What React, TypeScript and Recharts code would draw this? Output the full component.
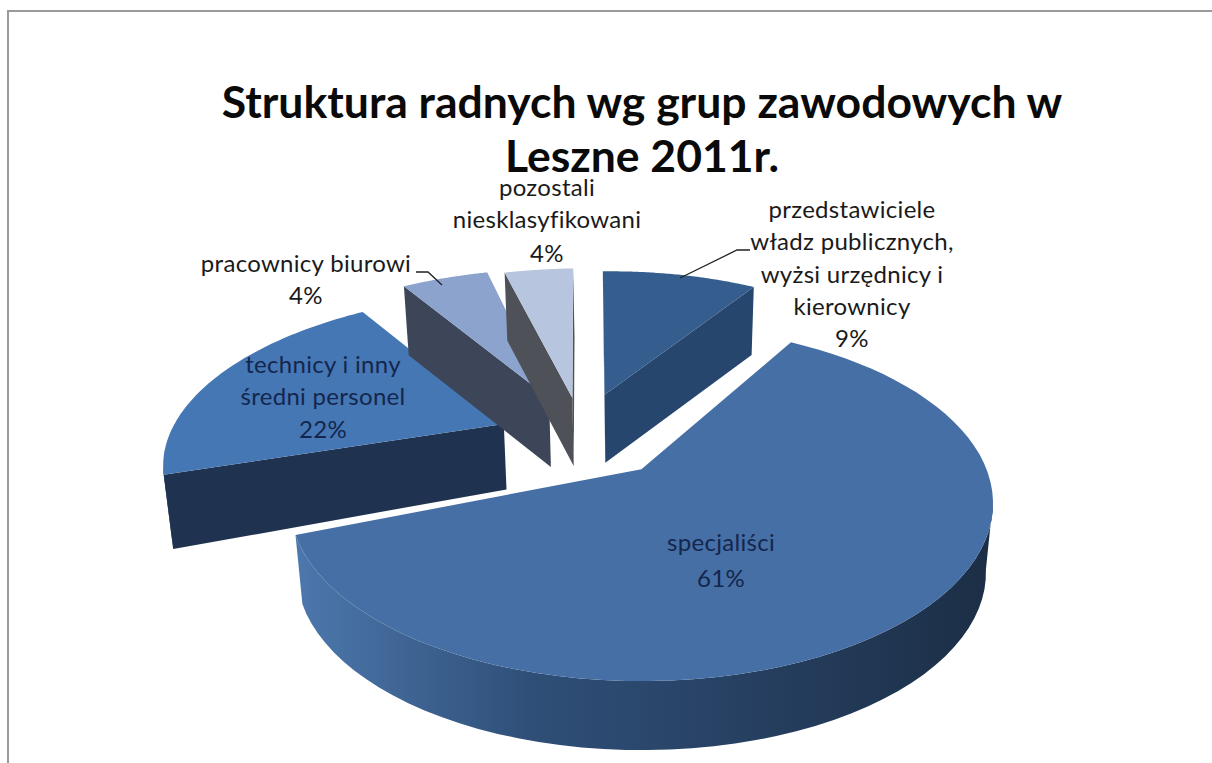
import React from "react";
import { PieChart, Pie, Cell } from "recharts";

const categories = ["technicy i inny średni personel", "pracownicy biurowi", "pozostali niesklasyfikowani", "przedstawiciele władz publicznych, wyżsi urzędnicy i kierownicy", "specjaliści"];
const shares = [22, 4, 4, 9, 61];
const titleLines = ["Struktura radnych wg grup zawodowych w", "Leszne 2011r."];
const data = categories.map((name, i) => ({ name, value: shares[i] }));

// perspective of the 3D disc
const K = 0.19, TILT = 0.497, SHRINK = 0.98;

type Look = { ex: number; ey: number; rs: number; a0: number; a1: number; dp: number; ds: number; top: string; edge: string; wall: string[]; lines: string[]; lx: number; ly: number[]; ink: string; leader?: number[][] };
const looks: Look[] = [
  { ex: -0.42, ey: -0.286, rs: 1.015, a0: 0, a1: -5, dp: 62, ds: 0.026, top: "#4577b4", edge: "#1f3350", wall: ["#1f3350"], lines: ["technicy i inny", "średni personel"], lx: 323, ly: [373, 405, 438], ink: "#14264d" },
  { ex: -0.289, ey: -0.461, rs: 1.07, a0: -4, a1: -1, dp: 69, ds: 0, top: "#8ba3cd", edge: "#3c4658", wall: ["#3c4658"], lines: ["pracownicy biurowi"], lx: 306, ly: [272, 304], ink: "#1a1a1a", leader: [[416, 272], [428, 272], [442, 285]] },
  { ex: -0.215, ey: -0.461, rs: 1.07, a0: -1.5, a1: -2, dp: 68, ds: 0, top: "#b8c5de", edge: "#4f5158", wall: ["#4f5158"], lines: ["pozostali", "niesklasyfikowani"], lx: 547, ly: [196, 228, 262], ink: "#1a1a1a" },
  { ex: -0.113, ey: -0.483, rs: 1.02, a0: -1.5, a1: -1, dp: 68, ds: 0, top: "#355e8e", edge: "#27466d", wall: ["#27466d"], lines: ["przedstawiciele", "władz publicznych,", "wyżsi urzędnicy i", "kierownicy"], lx: 852, ly: [218, 250, 283, 315, 347], ink: "#1a1a1a", leader: [[750, 250], [737, 250], [680, 278]] },
  { ex: 0.004, ey: -0.005, rs: 1.01, a0: -2, a1: -3, dp: 69, ds: 0, top: "#456fa5", edge: "#456fa5", wall: ["#4d78ad", "#2f4f78", "#263f60", "#1b2e45"], lines: ["specjaliści"], lx: 721, ly: [551, 587], ink: "#14264d" },
];

const Slice3D = (p: any) => {
  const look = looks[categories.indexOf(p.name ?? p.payload?.name)];
  const { cx, cy, outerRadius: R } = p;
  const t0 = ((90 - p.startAngle + look.a0) * Math.PI) / 180;
  const t1 = ((90 - p.endAngle + look.a1) * Math.PI) / 180;
  const proj = (u: number, v: number) => {
    const w = 1 - K * (v + look.ey);
    const x = cx + (R * (u + look.ex)) / w;
    const y = cy + (R * TILT * (v + look.ey)) / w;
    return { x, y, bx: cx + (x - cx) * SHRINK, by: y + look.dp + look.ds * Math.abs(x - cx) };
  };
  const N = 72;
  const arc = Array.from({ length: N + 1 }, (_, i) => {
    const t = t0 + ((t1 - t0) * i) / N;
    return proj(look.rs * Math.sin(t), -look.rs * Math.cos(t));
  });
  const tip = proj(0, 0);
  const mid = (t0 + t1) / 2;
  const inner = proj(0.5 * Math.sin(mid), -0.5 * Math.cos(mid));
  const side = (a: any, b: any, c: { x: number; y: number }) => (b.x - a.x) * (c.y - a.y) - (b.y - a.y) * (c.x - a.x);
  const faces = (a: any, b: any, interior: { x: number; y: number }) =>
    side(a, b, { x: a.x, y: a.y + 10 }) * side(a, b, interior) < 0;
  const pts = (list: { x: number; y: number }[]) => list.map((q) => `${q.x.toFixed(1)},${q.y.toFixed(1)}`).join(" ");
  const low = (q: any) => ({ x: q.bx, y: q.by });
  const gid = `wall-${look.top.slice(1)}`;

  // visible stretches of the rim
  const runs: any[][] = [];
  let run: any[] = [];
  for (let i = 0; i < N; i++) {
    if (faces(arc[i], arc[i + 1], tip)) {
      if (!run.length) run.push(arc[i]);
      run.push(arc[i + 1]);
    } else if (run.length) {
      runs.push(run);
      run = [];
    }
  }
  if (run.length) runs.push(run);

  const edges = [arc[0], arc[N]].filter((e) => faces(tip, e, inner));
  return (
    <g>
      <defs>
        <linearGradient id={gid} x1="0" y1="0" x2="1" y2="0">
          {look.wall.map((c, i) => (
            <stop key={i} offset={look.wall.length > 1 ? i / (look.wall.length - 1) : 0} stopColor={c} />
          ))}
        </linearGradient>
      </defs>
      {edges.map((e, i) => (
        <polygon key={i} fill={look.edge} points={pts([tip, e, low(e), low(tip)])} />
      ))}
      {runs.map((r, i) => (
        <polygon key={i} fill={`url(#${gid})`} points={pts([...r, ...[...r].reverse().map(low)])} />
      ))}
      <polygon fill={look.top} points={pts([tip, ...arc])} />
    </g>
  );
};

const SliceLabel = (p: any) => {
  const look = looks[categories.indexOf(p.name ?? p.payload?.name)];
  const lines = [...look.lines, `${p.value}%`];
  return (
    <g>
      {look.leader && (
        <polyline points={look.leader.map((q) => q.join(",")).join(" ")} fill="none" stroke="#222" strokeWidth={1.3} />
      )}
      {lines.map((s, i) => (
        <text key={i} x={look.lx} y={look.ly[i]} textAnchor="middle" fontFamily="Lato" fontSize={24} letterSpacing={0.3} fill={look.ink}>
          {s}
        </text>
      ))}
    </g>
  );
};

export default function App() {
  return (
    <div style={{ position: "absolute", left: 0, top: 0, width: 1212, height: 763, background: "#fff", overflow: "hidden" }}>
      <div style={{ position: "absolute", left: 7, top: 10, width: 1205, height: 753, borderLeft: "2px solid #9a9a9a", borderTop: "2px solid #9a9a9a" }} />
      {titleLines.map((s, i) => (
        <div key={s} style={{ position: "absolute", left: 0, width: 1284, top: 86 + i * 54, textAlign: "center", fontFamily: "Lato", fontWeight: 700, fontSize: 44.5, lineHeight: "30px", color: "#0a0a0a" }}>
          {s}
        </div>
      ))}
      <div style={{ position: "absolute", left: 0, top: 0 }}>
        <PieChart width={1212} height={763} margin={{ top: 0, right: 0, bottom: 0, left: 0 }}>
          <Pie
            data={data}
            dataKey="value"
            nameKey="name"
            cx={640}
            cy={470}
            outerRadius={342}
            startAngle={-162}
            endAngle={-522}
            stroke="none"
            isAnimationActive={false}
            shape={Slice3D}
            activeShape={Slice3D}
            inactiveShape={Slice3D}
            label={SliceLabel}
            labelLine={false}
          >
            {data.map((d) => (
              <Cell key={d.name} />
            ))}
          </Pie>
        </PieChart>
      </div>
    </div>
  );
}
